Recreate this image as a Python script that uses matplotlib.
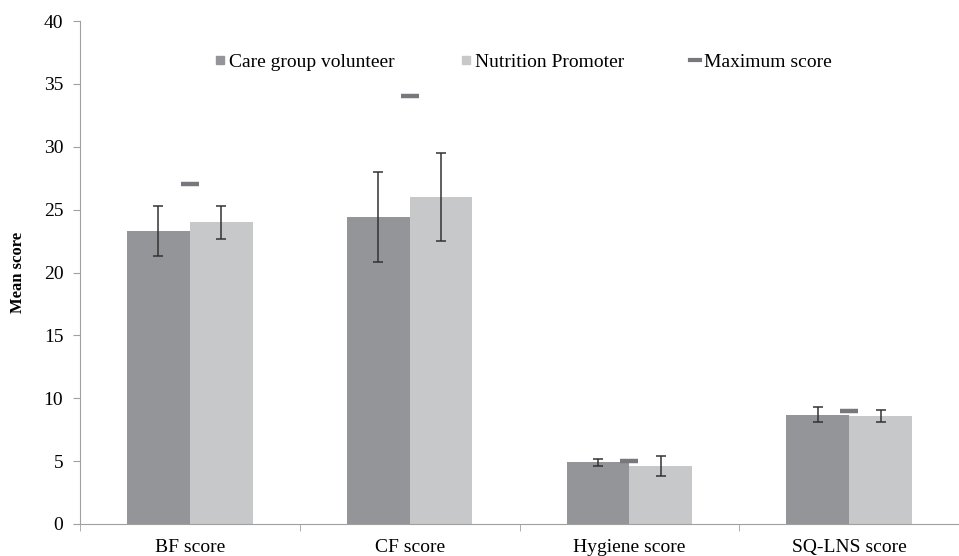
import numpy as np
import matplotlib
matplotlib.use("Agg")
import matplotlib.pyplot as plt
from matplotlib.lines import Line2D

plt.rcParams["font.family"] = ["Liberation Serif", "DejaVu Serif"]

# ---------- data ----------
categories = ["BF score", "CF score", "Hygiene score", "SQ-LNS score"]
cgv_mean = [23.3, 24.4, 4.9, 8.7]
cgv_err = [2.0, 3.6, 0.3, 0.6]
np_mean = [24.0, 26.0, 4.6, 8.6]
np_err = [1.3, 3.5, 0.8, 0.5]
max_score = [27, 34, 5, 9]

C_DARK = "#939598"
C_LIGHT = "#c7c8ca"
C_MAX = "#77787b"

fig = plt.figure(figsize=(9.59, 5.56), dpi=100)
ax = fig.add_axes([80 / 959, 1 - 524 / 556, 1 - 80 / 959, (524 - 21) / 556])

x = np.arange(len(categories))
w = 0.286
ekw = dict(ecolor="#333333", elinewidth=1.1, capsize=3.3, capthick=1.1)
ax.bar(x - w / 2, cgv_mean, w, color=C_DARK, yerr=cgv_err, error_kw=ekw,
       label="Care group volunteer", zorder=2)
ax.bar(x + w / 2, np_mean, w, color=C_LIGHT, yerr=np_err, error_kw=ekw,
       label="Nutrition Promoter", zorder=2)
# maximum possible score: short dash between the two bars
ax.plot(x, max_score, ls="none", marker="_", ms=13.5, mew=3.2, color=C_MAX,
        zorder=3)

ax.set_xlim(-0.5, len(categories) - 0.5)
ax.set_ylim(0, 40)
ax.set_yticks(range(0, 41, 5))
ax.set_xticks(x)
ax.set_xticklabels(categories)
ax.set_xticks(np.arange(-0.5, len(categories)), minor=True)
ax.tick_params(axis="x", which="major", length=0, pad=11, labelsize=14)
ax.tick_params(axis="x", which="minor", length=5, color="#a0a0a0")
ax.tick_params(axis="y", length=5, color="#a0a0a0", labelsize=14, pad=7)
for s in ("top", "right"):
    ax.spines[s].set_visible(False)
for s in ("left", "bottom"):
    ax.spines[s].set_color("#a0a0a0")
ax.set_ylabel("Mean score", fontweight="bold", fontsize=12)
ax.yaxis.set_label_coords(-(80 - 26) / 879, 0.5)

handles = [
    Line2D([], [], ls="none", marker="s", ms=6.3, color=C_DARK),
    Line2D([], [], ls="none", marker="s", ms=6.3, color=C_LIGHT),
    Line2D([], [], color=C_MAX, lw=3),
]
labels = ["Care group volunteer", "Nutrition Promoter", "Maximum score"]
ax.legend(handles, labels, loc="center", bbox_to_anchor=(0.5045, 36.7 / 40),
          ncol=3, frameon=False, fontsize=14, handlelength=0.5,
          handletextpad=0.2, columnspacing=3.4)

fig.savefig("out.png", dpi=100)
